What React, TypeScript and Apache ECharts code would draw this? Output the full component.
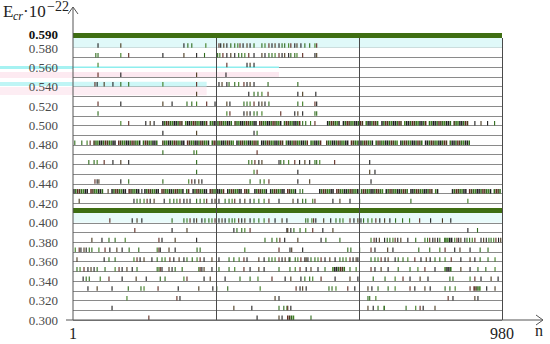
import React, { useEffect, useRef } from "react";
import * as echarts from "echarts";

// ---------- data ----------
const nMin = 1;
const nMax = 980;
const dividerN = [327, 654, 980];
const yLevels = [0.3, 0.59];
const yLabelValues = [0.59, 0.58, 0.56, 0.54, 0.52, 0.5, 0.48, 0.46, 0.44, 0.42, 0.4, 0.38, 0.36, 0.34, 0.32, 0.3];
const xLabelValues = [1, 980];

const bar590 = [[1, 980]];
const bar410 = [[1, 980]];

const ticks580 = [58, 110, 254, 263, 272, 304, 334, 338, 345, 352, 361, 370, 377, 382, 389, 398, 405, 414, 432, 439, 448, 455, 462, 471, 478, 484, 493, 498, 507, 512, 521, 530, 541, 553, 557];
const ticks570 = [53, 58, 110, 128, 206, 254, 283, 301, 331, 336, 343, 352, 361, 370, 379, 386, 393, 402, 414, 432, 439, 448, 455, 462, 471, 478, 484, 493, 498, 507, 512, 525, 553, 557];
const ticks560 = [58, 352, 398, 405, 414];
const ticks550 = [58, 110, 283, 350];
const ticks540 = [51, 56, 72, 92, 110, 128, 206, 283, 334, 341, 352, 357, 370, 379, 391, 398, 405, 414, 446, 514];
const ticks530 = [283, 402, 414, 423, 432, 446, 514, 525, 555];
const ticks520 = [58, 110, 206, 227, 261, 272, 283, 306, 325, 352, 359, 391, 398, 405, 414, 425, 432, 439, 448, 514, 525, 553, 557];
const ticks510 = [58, 352, 359, 391, 398, 405, 414, 421, 432, 475, 507, 514, 525, 553, 557];
const ticks500 = [110, 128, 167, 177, 186, 525, 532, 543, 553, 918, 932, 947, 963];
const runs500 = [[206, 519], [582, 610], [618, 700], [706, 902]];
const ticks490 = [206, 283, 414, 421];
const ticks480 = [5, 21, 33, 40];
const runs480 = [[49, 193], [206, 567], [580, 909]];
const ticks470 = [206, 277, 283, 421];
const ticks460 = [37, 49, 56, 72, 92, 110, 128, 283, 402, 409, 416, 425, 432, 471, 475, 482, 493, 507, 518, 530, 541, 553, 557, 564, 598, 678];
const ticks450 = [283, 414, 421, 514, 678, 690];
const ticks440 = [51, 56, 60, 110, 128, 206, 265, 272, 279, 288, 295, 405, 428, 437, 448, 514, 541, 681];
const ticks430 = [81, 158, 519, 525];
const runs430 = [[3, 69], [90, 154], [165, 268], [275, 348], [354, 405], [416, 446], [452, 512], [564, 833], [867, 977]];
const ticks420 = [15, 140, 147, 154, 163, 170, 177, 186, 209, 222, 231, 238, 245, 254, 261, 268, 283, 291, 300, 306, 318, 325, 334, 348, 357, 364, 370, 382, 393, 405, 414, 425, 437, 448, 471, 503, 514, 525, 532, 548, 553, 594, 610, 633, 655, 772, 902];
const ticks400 = [85, 136, 147, 158, 227, 254, 261, 268, 277, 283, 295, 302, 311, 318, 325, 334, 341, 348, 357, 364, 370, 379, 386, 393, 405, 414, 425, 437, 448, 462, 478, 489, 532, 537, 546, 550, 555, 573, 589, 601, 610, 617, 633, 642, 651, 658, 664, 674, 683, 692, 701, 712, 724, 737, 753, 769, 792, 817, 844, 863];
const ticks390 = [142, 227, 261, 368, 375, 386, 393, 405, 489, 491, 498, 505, 519, 532, 548, 571, 594, 902, 924];
const ticks380 = [44, 67, 83, 97, 120, 197, 204, 234, 283, 439, 455, 466, 473, 484, 514, 567, 578, 610, 681, 688, 693, 700, 712, 718, 724, 731, 736, 742, 749, 765, 783, 804, 810, 815, 822, 827, 833, 838, 849, 872, 877, 881, 886, 895, 900, 906, 912, 918, 932, 938, 944, 950, 955, 961, 966, 972, 977];
const runs380 = [[852, 868]];
const ticks370 = [6, 15, 19, 26, 31, 38, 44, 60, 74, 85, 101, 113, 129, 151, 193, 197, 200, 220, 234, 284, 291, 393, 471, 496, 500, 525, 628, 635, 655, 681, 690, 719, 731, 790, 815, 838, 850, 872, 884, 907, 930, 948];
const ticks360 = [10, 72, 83, 97, 140, 147, 154, 163, 181, 193, 204, 211, 222, 231, 243, 254, 261, 273, 284, 291, 300, 318, 334, 357, 368, 380, 391, 398, 425, 437, 448, 455, 462, 471, 478, 485, 494, 496, 508, 514, 521, 530, 533, 537, 544, 553, 560, 567, 576, 587, 599, 610, 617, 624, 633, 640, 647, 651, 681, 690, 697, 704, 713, 720, 736, 743, 754, 765, 781, 795, 807, 816, 827, 838, 850, 864, 886, 907, 918, 930, 948, 964];
const ticks350 = [10, 17, 26, 35, 42, 49, 56, 74, 97, 106, 113, 124, 136, 147, 193, 197, 200, 204, 220, 227, 234, 250, 288, 291, 295, 300, 318, 334, 357, 370, 391, 405, 425, 437, 471, 496, 508, 519, 533, 544, 560, 576, 633, 647, 681, 690, 704, 720, 743, 770, 788, 804, 827, 886, 907, 925, 943, 964];
const runs350 = [[594, 621], [850, 866]];
const ticks340 = [24, 31, 38, 63, 83, 113, 145, 168, 200, 211, 254, 261, 300, 314, 348, 382, 405, 423, 455, 485, 498, 521, 530, 541, 548, 567, 599, 633, 651, 686, 713, 736, 754, 770, 793, 811, 861, 868, 907, 918, 932, 955, 971];
const ticks330 = [35, 56, 90, 127, 156, 163, 195, 241, 288, 320, 329, 354, 428, 510, 519, 525, 533, 585, 592, 601, 628, 644, 674, 683, 697, 720, 736, 770, 781, 804, 816, 850, 861, 873, 907, 945, 964];
const runs330 = [[912, 930]];
const ticks320 = [124, 238, 245, 462, 471, 674, 678, 692, 857, 868, 918, 925];
const ticks310 = [90, 368, 409, 471, 482, 489, 491, 498, 674, 686, 697, 761, 783, 793, 800, 827];
const runs310 = [[711, 716]];
const ticks300 = [174, 421, 471, 478, 544];
const runs300 = [[491, 507]];

type Row = { y: number; ticks: number[]; runs: number[][]; solid?: number[][] };
const rows: Row[] = [
  { y: 0.59, ticks: [], runs: [], solid: bar590 },
  { y: 0.58, ticks: ticks580, runs: [] },
  { y: 0.57, ticks: ticks570, runs: [] },
  { y: 0.56, ticks: ticks560, runs: [] },
  { y: 0.55, ticks: ticks550, runs: [] },
  { y: 0.54, ticks: ticks540, runs: [] },
  { y: 0.53, ticks: ticks530, runs: [] },
  { y: 0.52, ticks: ticks520, runs: [] },
  { y: 0.51, ticks: ticks510, runs: [] },
  { y: 0.5, ticks: ticks500, runs: runs500 },
  { y: 0.49, ticks: ticks490, runs: [] },
  { y: 0.48, ticks: ticks480, runs: runs480 },
  { y: 0.47, ticks: ticks470, runs: [] },
  { y: 0.46, ticks: ticks460, runs: [] },
  { y: 0.45, ticks: ticks450, runs: [] },
  { y: 0.44, ticks: ticks440, runs: [] },
  { y: 0.43, ticks: ticks430, runs: runs430 },
  { y: 0.42, ticks: ticks420, runs: [] },
  { y: 0.41, ticks: [], runs: [], solid: bar410 },
  { y: 0.4, ticks: ticks400, runs: [] },
  { y: 0.39, ticks: ticks390, runs: [] },
  { y: 0.38, ticks: ticks380, runs: runs380 },
  { y: 0.37, ticks: ticks370, runs: [] },
  { y: 0.36, ticks: ticks360, runs: [] },
  { y: 0.35, ticks: ticks350, runs: runs350 },
  { y: 0.34, ticks: ticks340, runs: [] },
  { y: 0.33, ticks: ticks330, runs: runs330 },
  { y: 0.32, ticks: ticks320, runs: [] },
  { y: 0.31, ticks: ticks310, runs: runs310 },
  { y: 0.3, ticks: ticks300, runs: runs300 },
];

// ---------- styles ----------
const SERIF = "Liberation Serif";
const tickPalette = ["#2f6b1c", "#5e2a20", "#222222", "#3f7d22", "#4a3a1f", "#2f6b1c", "#1f1f1f"];
const barColor = "#3f6e12";

export default function App() {
  const ref = useRef<HTMLDivElement>(null);

  useEffect(() => {
    if (!ref.current) return;
    const chart = echarts.init(ref.current, undefined, { renderer: "svg" });

    const markData: any[] = [];
    rows.forEach((r, ri) => {
      (r.solid || []).forEach((s) => markData.push([s[0], s[1], r.y, 2, ri]));
      r.runs.forEach((s) => markData.push([s[0], s[1], r.y, 1, ri]));
      r.ticks.forEach((t) => markData.push([t, t, r.y, 0, ri]));
    });

    const bandStyle = (c: string) => ({ color: c, opacity: 1 });

    chart.setOption({
      animation: false,
      backgroundColor: "#ffffff",
      grid: { left: 73, right: 48, top: 38, bottom: 24, containLabel: false },
      xAxis: {
        type: "value",
        min: nMin,
        max: nMax,
        axisLine: { show: false },
        axisTick: { show: false },
        splitLine: { show: false },
        axisLabel: { show: false },
      },
      yAxis: {
        type: "value",
        min: yLevels[0],
        max: yLevels[1],
        interval: 0.01,
        axisLine: { show: false },
        axisTick: { show: false },
        splitLine: { show: true, lineStyle: { color: "#8a8a8a", width: 1 } },
        axisLabel: { show: false },
      },
      series: [
        {
          type: "line",
          data: [],
          silent: true,
          markArea: {
            silent: true,
            data: [
              [{ xAxis: 1, yAxis: 0.58, itemStyle: bandStyle("#e0f9f9") }, { xAxis: 980, yAxis: 0.59 }],
              [{ xAxis: 1, yAxis: 0.5592, itemStyle: bandStyle("#8eeeee") }, { xAxis: 471, yAxis: 0.5608 }],
              [{ xAxis: 1, yAxis: 0.55, itemStyle: bandStyle("#fce8f0") }, { xAxis: 471, yAxis: 0.555 }],
              [{ xAxis: 1, yAxis: 0.54, itemStyle: bandStyle("#cdf7f7") }, { xAxis: 306, yAxis: 0.545 }],
              [{ xAxis: 1, yAxis: 0.531, itemStyle: bandStyle("#fdedf3") }, { xAxis: 306, yAxis: 0.5395 }],
              [{ xAxis: 1, yAxis: 0.4, itemStyle: bandStyle("#e8fafa") }, { xAxis: 980, yAxis: 0.41 }],
            ],
          },
          markLine: {
            silent: true,
            symbol: "none",
            label: { show: false },
            lineStyle: { color: "#4a4a4a", width: 1, type: "solid" },
            data: dividerN.map((n) => ({ xAxis: n })),
          },
          z: 1,
        },
        {
          type: "custom",
          silent: true,
          z: 3,
          data: markData,
          encode: { x: [0, 1], y: 2 },
          renderItem: (params: any, api: any) => {
            const n0 = api.value(0);
            const n1 = api.value(1);
            const y = api.value(2);
            const kind = api.value(3);
            const ri = api.value(4);
            const p0 = api.coord([n0, y]);
            const p1 = api.coord([n1, y]);
            if (kind === 2) {
              return {
                type: "rect",
                shape: { x: p0[0], y: p0[1] - 5, width: p1[0] - p0[0], height: 5 },
                style: { fill: barColor },
              };
            }
            if (kind === 1) {
              const children: any[] = [];
              const w = p1[0] - p0[0];
              let k = 0;
              for (let x = p0[0]; x <= p0[0] + w; x += 1.9) {
                const skip = (k * 7 + ri * 3) % 13 === 0;
                if (!skip) {
                  children.push({
                    type: "rect",
                    shape: { x: x - 0.7, y: p0[1] - 4.5, width: 1.5, height: 4.5 },
                    style: { fill: tickPalette[(k * 3 + ri) % tickPalette.length] },
                  });
                }
                k++;
              }
              return { type: "group", children };
            }
            const c = tickPalette[(params.dataIndex * 5 + ri) % tickPalette.length];
            return {
              type: "rect",
              shape: { x: p0[0] - 0.5, y: p0[1] - 4.5, width: 1.1, height: 4.5 },
              style: { fill: c },
            };
          },
        },
      ],
    });

    // tick labels placed through the axes' own scales
    const yPix = (v: number) => chart.convertToPixel({ yAxisIndex: 0 }, v) as number;
    const xPix = (v: number) => chart.convertToPixel({ xAxisIndex: 0 }, v) as number;
    const x0 = xPix(nMin);
    const yBase = yPix(yLevels[0]);

    const labelTexts: any[] = yLabelValues.map((v) => {
      const k = Math.round(v * 1000);
      const top = k === 590;
      const shift = top ? -4 : k === 580 ? 1 : 0;
      return {
        type: "text",
        z: 10,
        x: x0 - 15,
        y: yPix(v) + shift,
        style: {
          text: v.toFixed(3),
          font: top ? `bold 13px ${SERIF}` : `13px ${SERIF}`,
          fill: top ? "#111" : "#4a4a4a",
          textAlign: "right",
          textVerticalAlign: "middle",
        },
      };
    });
    const xTexts: any[] = xLabelValues.map((v) => ({
      type: "text",
      z: 10,
      x: xPix(v),
      y: yBase + 5,
      style: {
        text: String(v),
        font: `16px ${SERIF}`,
        fill: "#222",
        textAlign: "center",
        textVerticalAlign: "top",
      },
    }));

    chart.setOption({
      graphic: [
        { type: "rect", z: -10, shape: { x: 0, y: 66, width: 73, height: 3 }, style: { fill: "#a6f2f2" } },
        { type: "rect", z: -10, shape: { x: 0, y: 72, width: 73, height: 6 }, style: { fill: "#fdeaf1" } },
        { type: "rect", z: -10, shape: { x: 0, y: 82, width: 73, height: 4 }, style: { fill: "#bff5f5" } },
        { type: "rect", z: -10, shape: { x: 0, y: 87, width: 73, height: 8 }, style: { fill: "#fdedf3" } },
        { type: "line", z: 10, shape: { x1: x0, y1: yBase, x2: x0, y2: 7 }, style: { stroke: "#555", lineWidth: 1 } },
        { type: "polyline", z: 10, shape: { points: [[x0 - 5, 14], [x0, 7], [x0 + 5, 14]] }, style: { stroke: "#555", lineWidth: 1, fill: null } },
        { type: "line", z: 10, shape: { x1: x0 - 7, y1: yBase, x2: 543, y2: yBase }, style: { stroke: "#555", lineWidth: 1 } },
        { type: "polyline", z: 10, shape: { points: [[536, yBase - 5], [543, yBase], [536, yBase + 5]] }, style: { stroke: "#555", lineWidth: 1, fill: null } },
        { type: "text", z: 10, left: 535, top: 322, style: { text: "n", font: `16px ${SERIF}`, fill: "#222" } },
        { type: "text", z: 10, left: 3, top: 3, style: { text: "E", font: `17px ${SERIF}`, fill: "#222" } },
        { type: "text", z: 10, left: 13, top: 10, style: { text: "cr", font: `italic 12px ${SERIF}`, fill: "#222" } },
        { type: "text", z: 10, left: 23, top: 3, style: { text: "·10", font: `17px ${SERIF}`, fill: "#222" } },
        { type: "text", z: 10, left: 47, top: -1, style: { text: "−22", font: `14px ${SERIF}`, fill: "#222" } },
        ...labelTexts,
        ...xTexts,
      ],
    });

    return () => chart.dispose();
  }, []);

  return (
    <div
      ref={ref}
      style={{ position: "fixed", left: 0, top: 0, width: 550, height: 344, background: "#fff" }}
    />
  );
}
